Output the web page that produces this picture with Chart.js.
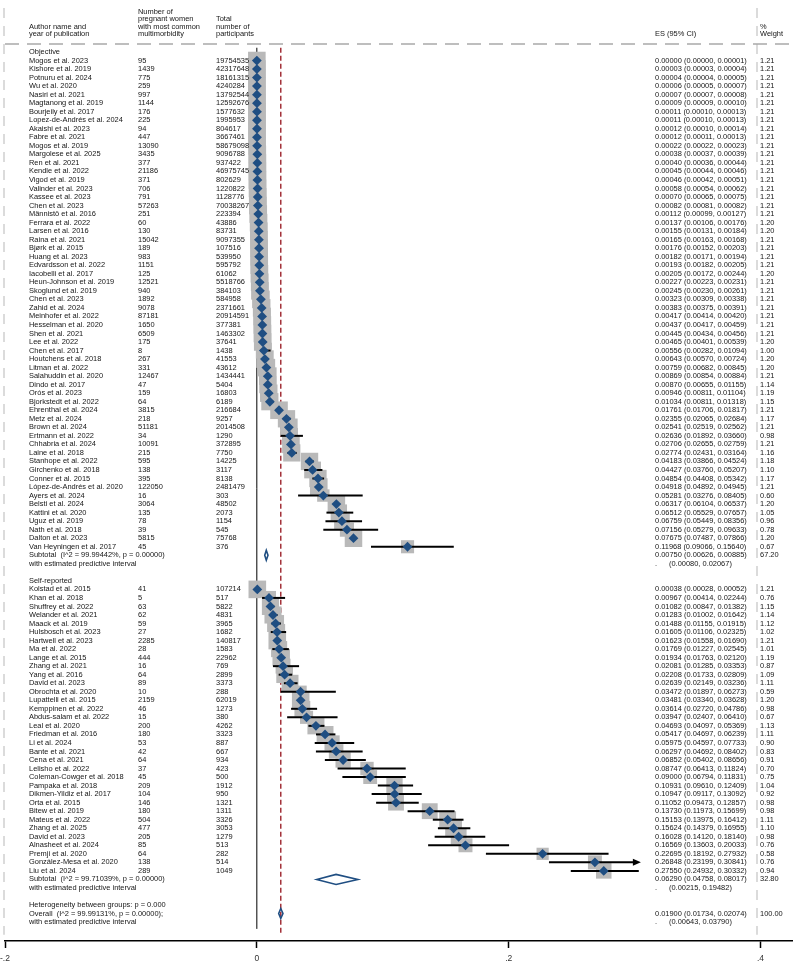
<!DOCTYPE html>
<html>
<head>
<meta charset="utf-8">
<script src="https://cdn.jsdelivr.net/npm/chart.js@4.4.1/dist/chart.umd.min.js"></script>
<style>
  html, body { margin: 0; padding: 0; background: #fff; }
</style>
</head>
<body>
<canvas id="chart-forest" width="794" height="963"></canvas>
<script>
// ---- data ----
const objAuthors = ["Mogos et al. 2023","Kishore et al. 2019","Potnuru et al. 2024","Wu et al. 2020","Nasiri et al. 2021","Magtanong et al. 2019","Bourjeily et al. 2017","Lopez-de-Andrés et al. 2024","Akaishi et al. 2023","Fabre et al. 2021","Mogos et al. 2019","Margolese et al. 2025","Ren et al. 2021","Kendle et al. 2022","Vigod et al. 2019","Valinder et al. 2023","Kassee et al. 2023","Chen et al. 2023","Männistö et al. 2016","Ferrara et al. 2022","Larsen et al. 2016","Raina et al. 2021","Bjørk et al. 2015","Huang et al. 2023","Edvardsson et al. 2022","Iacobelli et al. 2017","Heun-Johnson et al. 2019","Skoglund et al. 2019","Chen et al. 2023","Zahid et al. 2024","Meinhofer et al. 2022","Hesselman et al. 2020","Shen et al. 2021","Lee et al. 2022","Chen et al. 2017","Houtchens et al. 2018","Litman et al. 2022","Salahuddin et al. 2020","Dindo et al. 2017","Orós et al. 2023","Bjorkstedt et al. 2022","Ehrenthal et al. 2024","Metz et al. 2024","Brown et al. 2024","Ertmann et al. 2022","Chhabria et al. 2024","Laine et al. 2018","Stanhope et al. 2022","Girchenko et al. 2018","Conner et al. 2015","López-de-Andrés et al. 2020","Ayers et al. 2024","Belsti et al. 2024","Kattini et al. 2020","Uguz et al. 2019","Nath et al. 2018","Dalton et al. 2023","Van Heyningen et al. 2017"];
const objCases = [95,1439,775,259,997,1144,176,225,94,447,13090,3435,377,21186,371,706,791,57263,251,60,130,15042,189,983,1151,125,12521,940,1892,9078,87181,1650,6509,175,8,267,331,12467,47,159,64,3815,218,51181,34,10091,215,595,138,395,122050,16,3064,135,78,39,5815,45];
const objTotals = [19754535,42317648,18161315,4240284,13792544,12592676,1577632,1995953,804617,3667461,58679098,9096788,937422,46975745,802629,1220822,1128776,70038267,223394,43886,83731,9097355,107516,539950,595792,61062,5518766,384103,584958,2371661,20914591,377381,1463302,37641,1438,41553,43612,1434441,5404,16803,6189,216684,9257,2014508,1290,372895,7750,14225,3117,8138,2481479,303,48502,2073,1154,545,75768,376];
const objES = [0.00000,0.00003,0.00004,0.00006,0.00007,0.00009,0.00011,0.00011,0.00012,0.00012,0.00022,0.00038,0.00040,0.00045,0.00046,0.00058,0.00070,0.00082,0.00112,0.00137,0.00155,0.00165,0.00176,0.00182,0.00193,0.00205,0.00227,0.00245,0.00323,0.00383,0.00417,0.00437,0.00445,0.00465,0.00556,0.00643,0.00759,0.00869,0.00870,0.00946,0.01034,0.01761,0.02355,0.02541,0.02636,0.02706,0.02774,0.04183,0.04427,0.04854,0.04918,0.05281,0.06317,0.06512,0.06759,0.07156,0.07675,0.11968];
const objLower = [0.00000,0.00003,0.00004,0.00005,0.00007,0.00009,0.00010,0.00010,0.00010,0.00011,0.00022,0.00037,0.00036,0.00044,0.00042,0.00054,0.00065,0.00081,0.00099,0.00106,0.00131,0.00163,0.00152,0.00171,0.00182,0.00172,0.00223,0.00230,0.00309,0.00375,0.00414,0.00417,0.00434,0.00401,0.00282,0.00570,0.00682,0.00854,0.00655,0.00811,0.00811,0.01706,0.02065,0.02519,0.01892,0.02655,0.02431,0.03866,0.03760,0.04408,0.04892,0.03276,0.06104,0.05529,0.05449,0.05279,0.07487,0.09066];
const objUpper = [0.00001,0.00004,0.00005,0.00007,0.00008,0.00010,0.00013,0.00013,0.00014,0.00013,0.00023,0.00039,0.00044,0.00046,0.00051,0.00062,0.00075,0.00082,0.00127,0.00176,0.00184,0.00168,0.00203,0.00194,0.00205,0.00244,0.00231,0.00261,0.00338,0.00391,0.00420,0.00459,0.00456,0.00539,0.01094,0.00724,0.00845,0.00884,0.01155,0.01104,0.01318,0.01817,0.02684,0.02562,0.03660,0.02759,0.03164,0.04524,0.05207,0.05342,0.04945,0.08405,0.06537,0.07657,0.08356,0.09633,0.07866,0.15640];
const objWeights = [1.21,1.21,1.21,1.21,1.21,1.21,1.21,1.21,1.21,1.21,1.21,1.21,1.21,1.21,1.21,1.21,1.21,1.21,1.21,1.20,1.20,1.21,1.21,1.21,1.21,1.20,1.21,1.21,1.21,1.21,1.21,1.21,1.21,1.20,1.00,1.20,1.20,1.21,1.14,1.19,1.15,1.21,1.17,1.21,0.98,1.21,1.16,1.18,1.10,1.17,1.21,0.60,1.20,1.05,0.96,0.78,1.20,0.67];

const selfAuthors = ["Kolstad et al. 2015","Khan et al. 2018","Shuffrey et al. 2022","Welander et al. 2021","Maack et al. 2019","Hulsbosch et al. 2023","Hartwell et al. 2023","Ma et al. 2022","Lange et al. 2015","Zhang et al. 2021","Yang et al. 2016","David et al. 2023","Obrochta et al. 2020","Lupattelli et al. 2015","Kemppinen et al. 2022","Abdus-salam et al. 2022","Leal et al. 2020","Friedman et al. 2016","Li et al. 2024","Bante et al. 2021","Cena et al. 2021","Lelisho et al. 2022","Coleman-Cowger et al. 2018","Pampaka et al. 2018","Dikmen-Yildiz et al. 2017","Orta et al. 2015","Bitew et al. 2019","Mateus et al. 2022","Zhang et al. 2025","David et al. 2023","Alnasheet et al. 2024","Premji et al. 2020","González-Mesa et al. 2020","Liu et al. 2024"];
const selfCases = [41,5,63,62,59,27,2285,28,444,16,64,89,10,2159,46,15,200,180,53,42,64,37,45,209,104,146,180,504,477,205,85,64,138,289];
const selfTotals = [107214,517,5822,4831,3965,1682,140817,1583,22962,769,2899,3373,288,62019,1273,380,4262,3323,887,667,934,423,500,1912,950,1321,1311,3326,3053,1279,513,282,514,1049];
const selfES = [0.00038,0.00967,0.01082,0.01283,0.01488,0.01605,0.01623,0.01769,0.01934,0.02081,0.02208,0.02639,0.03472,0.03481,0.03614,0.03947,0.04693,0.05417,0.05975,0.06297,0.06852,0.08747,0.09000,0.10931,0.10947,0.11052,0.13730,0.15153,0.15624,0.16028,0.16569,0.22695,0.26848,0.27550];
const selfLower = [0.00028,0.00414,0.00847,0.01002,0.01155,0.01106,0.01558,0.01227,0.01763,0.01285,0.01733,0.02149,0.01897,0.03340,0.02720,0.02407,0.04097,0.04697,0.04597,0.04692,0.05402,0.06413,0.06794,0.09610,0.09117,0.09473,0.11973,0.13975,0.14379,0.14120,0.13603,0.18192,0.23199,0.24932];
const selfUpper = [0.00052,0.02244,0.01382,0.01642,0.01915,0.02325,0.01690,0.02545,0.02120,0.03353,0.02809,0.03236,0.06273,0.03628,0.04786,0.06410,0.05369,0.06239,0.07733,0.08402,0.08656,0.11824,0.11831,0.12409,0.13092,0.12857,0.15699,0.16412,0.16955,0.18140,0.20033,0.27932,0.30841,0.30332];
const selfWeights = [1.21,0.76,1.15,1.14,1.12,1.02,1.21,1.01,1.19,0.87,1.09,1.11,0.59,1.20,0.98,0.67,1.13,1.11,0.90,0.83,0.91,0.70,0.75,1.04,0.92,0.98,0.98,1.11,1.10,0.98,0.76,0.58,0.76,0.94];

const groupNames = ["Objective", "Self-reported"];
const subtotalI2 = ["99.99442%", "99.71039%"];
const subtotalES = [0.00750, 0.06290];
const subtotalLower = [0.00626, 0.04758];
const subtotalUpper = [0.00885, 0.08017];
const subtotalWeights = [67.20, 32.80];
const predLower = [0.00080, 0.00215];
const predUpper = [0.02067, 0.19482];

const overallI2 = "99.99131%";
const overallES = 0.01900;
const overallLower = 0.01734;
const overallUpper = 0.02074;
const overallPredLower = 0.00643;
const overallPredUpper = 0.03790;
const heterogeneityP = "0.000";

const xTickValues = [-0.2, 0, 0.2, 0.4];
const xTickLabels = ["-.2", "0", ".2", ".4"];

// ---- layout ----
const ROW_STEP = 8.53;
const ROW0_PX = 52;
const PLOT_BOTTOM_PX = 941;
const CI_CLIP = 0.305;
const NAVY = "#1f4e82";
const BOX_GREY = "#b9b9b9";
const TXT = "#161616";
const FONT = "7.45px 'Liberation Sans', Arial, sans-serif";
const COL = { author: 29, cases: 138, total: 216, es: 655, weight: 760 };

function fmt(v) { return v.toFixed(5); }

function buildStudies(authors, cases, totals, es, lo, hi, wt, startRow) {
  return authors.map((name, i) => ({
    r: startRow + i, name, cases: cases[i], total: totals[i],
    es: es[i], lo: lo[i], hi: hi[i], wt: wt[i]
  }));
}

const objStudies = buildStudies(objAuthors, objCases, objTotals, objES, objLower, objUpper, objWeights, 1);
const selfStudies = buildStudies(selfAuthors, selfCases, selfTotals, selfES, selfLower, selfUpper, selfWeights, 63);
const studies = objStudies.concat(selfStudies);
const groupHeaderRows = [0, 62];
const subtotalRows = [59, 97];
const hetRow = 100;
const overallRow = 101;

const yMin = -ROW0_PX / ROW_STEP;
const yMax = yMin + PLOT_BOTTOM_PX / ROW_STEP;

// box area follows the study weight
function boxRadius(w) {
  const side = 16 * Math.sqrt(w);
  return side / Math.SQRT2;
}

function drawDiamond(ctx, xs, ys, es, lo, hi, r) {
  const cy = ys.getPixelForValue(r);
  ctx.beginPath();
  ctx.moveTo(xs.getPixelForValue(lo), cy);
  ctx.lineTo(xs.getPixelForValue(es), cy - 5);
  ctx.lineTo(xs.getPixelForValue(hi), cy);
  ctx.lineTo(xs.getPixelForValue(es), cy + 5);
  ctx.closePath();
  ctx.strokeStyle = NAVY;
  ctx.lineWidth = 1.6;
  ctx.stroke();
}

function drawTable(chart) {
  const { ctx } = chart;
  const py = r => chart.scales.y.getPixelForValue(r);
  ctx.fillStyle = TXT;
  ctx.font = FONT;
  ctx.textBaseline = "middle";
  ctx.textAlign = "left";

  const hy = [11.5, 19.2, 26.8, 34.4];
  ctx.fillText("Author name and", COL.author, hy[2]);
  ctx.fillText("year of publication", COL.author, hy[3]);
  ["Number of", "pregnant women", "with most common", "multimorbidity"].forEach((t, i) => ctx.fillText(t, COL.cases, hy[i]));
  ["Total", "number of", "participants"].forEach((t, i) => ctx.fillText(t, COL.total, hy[i + 1]));
  ctx.fillText("ES (95% CI)", COL.es, hy[3]);
  ctx.fillText("%", COL.weight, hy[2]);
  ctx.fillText("Weight", COL.weight, hy[3]);

  groupNames.forEach((g, i) => ctx.fillText(g, COL.author, py(groupHeaderRows[i])));
  studies.forEach(s => {
    const y = py(s.r);
    ctx.fillText(s.name, COL.author, y);
    ctx.fillText(String(s.cases), COL.cases, y);
    ctx.fillText(String(s.total), COL.total, y);
    ctx.fillText(`${fmt(s.es)} (${fmt(s.lo)}, ${fmt(s.hi)})`, COL.es, y);
    ctx.fillText(s.wt.toFixed(2), COL.weight, y);
  });
  subtotalRows.forEach((r, i) => {
    ctx.fillText(`Subtotal  (I^2 = ${subtotalI2[i]}, p = 0.00000)`, COL.author, py(r));
    ctx.fillText("with estimated predictive interval", COL.author, py(r + 1));
    ctx.fillText(`${fmt(subtotalES[i])} (${fmt(subtotalLower[i])}, ${fmt(subtotalUpper[i])})`, COL.es, py(r));
    ctx.fillText(subtotalWeights[i].toFixed(2), COL.weight, py(r));
    ctx.fillText(".", COL.es, py(r + 1));
    ctx.fillText(`(${fmt(predLower[i])}, ${fmt(predUpper[i])})`, COL.es + 14, py(r + 1));
  });
  ctx.fillText(`Heterogeneity between groups: p = ${heterogeneityP}`, COL.author, py(hetRow));
  ctx.fillText(`Overall  (I^2 = ${overallI2}, p = 0.00000);`, COL.author, py(overallRow));
  ctx.fillText("with estimated predictive interval", COL.author, py(overallRow + 1));
  ctx.fillText(`${fmt(overallES)} (${fmt(overallLower)}, ${fmt(overallUpper)})`, COL.es, py(overallRow));
  ctx.fillText("100.00", COL.weight, py(overallRow));
  ctx.fillText(".", COL.es, py(overallRow + 1));
  ctx.fillText(`(${fmt(overallPredLower)}, ${fmt(overallPredUpper)})`, COL.es + 14, py(overallRow + 1));
}

const forestPlugin = {
  id: "forest",
  beforeDatasetsDraw(chart) {
    const { ctx } = chart;
    const xs = chart.scales.x, ys = chart.scales.y;
    const py = r => ys.getPixelForValue(r);
    ctx.save();

    // light dashed frame lines
    ctx.strokeStyle = "#cfcfcf";
    ctx.lineWidth = 1.5;
    ctx.setLineDash([10, 8]);
    [4, 757].forEach(x => {
      ctx.beginPath();
      ctx.moveTo(x, 8);
      ctx.lineTo(x, py(103.5));
      ctx.stroke();
    });
    ctx.strokeStyle = "#a9a9a9";
    ctx.setLineDash([14, 8]);
    ctx.beginPath();
    ctx.moveTo(5, 44);
    ctx.lineTo(794, 44);
    ctx.stroke();
    ctx.setLineDash([]);

    // null line and overall effect line
    const x0 = xs.getPixelForValue(0);
    ctx.strokeStyle = "#000";
    ctx.lineWidth = 1;
    ctx.beginPath();
    ctx.moveTo(x0, py(-0.5));
    ctx.lineTo(x0, py(102.8));
    ctx.stroke();
    const xo = xs.getPixelForValue(overallES);
    ctx.strokeStyle = "#a3323a";
    ctx.lineWidth = 1.5;
    ctx.setLineDash([5, 3]);
    ctx.beginPath();
    ctx.moveTo(xo, py(-0.5));
    ctx.lineTo(xo, py(103.3));
    ctx.stroke();
    ctx.restore();
  },
  afterDatasetDraw(chart, args) {
    if (args.index !== 1) return;
    const { ctx } = chart;
    const xs = chart.scales.x, ys = chart.scales.y;
    ctx.save();
    ctx.strokeStyle = "#000";
    ctx.fillStyle = "#000";
    ctx.lineWidth = 2;
    studies.forEach(s => {
      const y = ys.getPixelForValue(s.r);
      const clipped = s.hi > CI_CLIP;
      const xl = xs.getPixelForValue(s.lo);
      const xr = xs.getPixelForValue(clipped ? CI_CLIP : s.hi);
      ctx.beginPath();
      ctx.moveTo(xl, y);
      ctx.lineTo(clipped ? xr - 6 : xr, y);
      ctx.stroke();
      if (clipped) {
        ctx.beginPath();
        ctx.moveTo(xr, y);
        ctx.lineTo(xr - 8, y - 3.5);
        ctx.lineTo(xr - 8, y + 3.5);
        ctx.closePath();
        ctx.fill();
      }
    });
    ctx.restore();
  },
  afterDatasetsDraw(chart) {
    const { ctx } = chart;
    const xs = chart.scales.x, ys = chart.scales.y;
    ctx.save();
    subtotalRows.forEach((r, i) => drawDiamond(ctx, xs, ys, subtotalES[i], subtotalLower[i], subtotalUpper[i], r));
    drawDiamond(ctx, xs, ys, overallES, overallLower, overallUpper, overallRow);
    drawTable(chart);
    ctx.restore();
  }
};

const pointData = studies.map(s => ({ x: s.es, y: s.r }));

new Chart(document.getElementById("chart-forest").getContext("2d"), {
  type: "scatter",
  data: {
    datasets: [
      {
        data: pointData,
        pointStyle: "rectRot",
        pointRadius: 4.9,
        backgroundColor: NAVY,
        borderWidth: 0
      },
      {
        data: pointData,
        pointStyle: "rect",
        pointRadius: studies.map(s => boxRadius(s.wt)),
        backgroundColor: BOX_GREY,
        borderWidth: 0
      }
    ]
  },
  options: {
    responsive: false,
    devicePixelRatio: 1,
    animation: false,
    events: [],
    layout: { autoPadding: false, padding: { left: 5, right: 2, top: 0, bottom: 1.5 } },
    plugins: { legend: { display: false }, tooltip: { enabled: false } },
    scales: {
      x: {
        type: "linear",
        min: -0.2,
        max: 0.425,
        afterBuildTicks: scale => { scale.ticks = xTickValues.map(v => ({ value: v })); },
        afterFit: scale => {
          scale.height = 20.5;
          scale.paddingLeft = 0;
          scale.paddingRight = 0;
        },
        grid: { drawOnChartArea: false, drawTicks: true, tickLength: 7, tickColor: "#000", tickWidth: 1.5 },
        border: { display: true, color: "#000", width: 1.5 },
        ticks: {
          padding: 6,
          color: "#333",
          font: { family: "'Liberation Sans', Arial, sans-serif", size: 8.5 },
          callback: (v) => xTickLabels[xTickValues.indexOf(v)] ?? ""
        }
      },
      y: {
        type: "linear",
        display: false,
        reverse: true,
        min: yMin,
        max: yMax
      }
    }
  },
  plugins: [forestPlugin]
});
</script>
</body>
</html>
